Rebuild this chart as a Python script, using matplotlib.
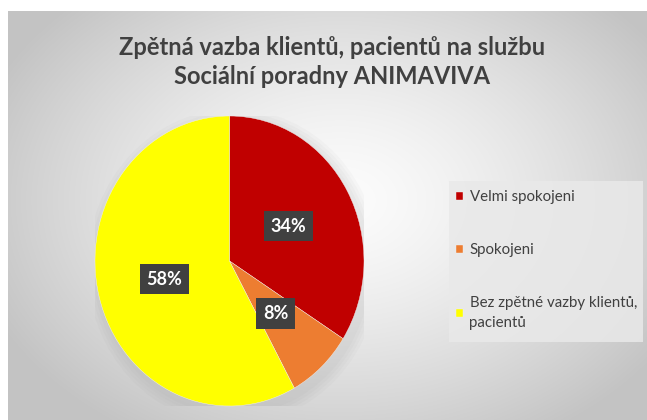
import numpy as np
import matplotlib.pyplot as plt
from matplotlib.patches import Ellipse

categories = ["Velmi spokojeni", "Spokojeni", "Bez zpětné vazby klientů,\npacientů"]
shares = [34, 8, 58]
colors = ["#C00000", "#ED7D31", "#FFFF00"]
title = "Zpětná vazba klientů, pacientů na službu\nSociální poradny ANIMAVIVA"

W, H = 647, 420
fig = plt.figure(figsize=(W / 100, H / 100), dpi=100)

# background: white margin + soft radial grey gradient
bg = fig.add_axes([0, 0, 1, 1])
yy, xx = np.mgrid[0:H, 0:W]
d = np.sqrt(((xx - 340) / 360.0) ** 2 + ((yy - 200) / 260.0) ** 2)
v = np.clip(252 - 52 * d ** 1.4, 195, 252) / 255.0
v[(xx < 8) | (yy < 11)] = 1.0
bg.imshow(np.dstack([v, v, v]), extent=(0, W, H, 0), aspect="auto")
bg.set_xlim(0, W)
bg.set_ylim(H, 0)
bg.axis("off")

# pie axes (the pie is a bit taller than wide in the original)
left, right, top, bottom = 95, 364, 116, 406
ax = fig.add_axes([left / W, (H - bottom) / H, (right - left) / W, (bottom - top) / H])

# soft shadow
for i in range(4):
    s = 1.0 + 0.022 * (i + 1)
    ax.add_patch(Ellipse((0.03, -0.04), 2 * s, 2 * s, fc="#808080", ec="none", alpha=0.04, zorder=0))

wedges, texts, autotexts = ax.pie(
    shares, colors=colors, startangle=90, counterclock=False,
    autopct="%.0f%%", pctdistance=0.5,
    wedgeprops=dict(linewidth=0.3, edgecolor="#f0f0f0"),
    textprops=dict(fontfamily="Lato", fontweight="bold", fontsize=13, color="white"),
)
for t in autotexts:
    t.set_bbox(dict(boxstyle="square,pad=0.38", fc="#404040", ec="none"))
ax.set_aspect("auto")
ax.set_xlim(-1, 1)
ax.set_ylim(-1, 1)
ax.axis("off")

fig.text(332 / W, 1 - 62 / H, title, ha="center", va="center",
         fontfamily="Lato", fontweight="bold", fontsize=17, color="#404040",
         linespacing=1.3)

# legend panel
bg.add_patch(plt.Rectangle((449, 181), 194, 161, fc="#e9e9e9", ec="none", alpha=0.85))
leg = fig.legend(wedges, categories, loc="upper left",
                 bbox_to_anchor=(456 / W, 1 - 190 / H), frameon=False,
                 borderpad=0, borderaxespad=0, handlelength=0.45, handleheight=0.45,
                 handletextpad=0.45, labelspacing=2.6,
                 prop=dict(family="Lato", size=10.8))
for t in leg.get_texts():
    t.set_color("#404040")
    t.set_linespacing(1.55)

fig.savefig("out.png", dpi=100)
